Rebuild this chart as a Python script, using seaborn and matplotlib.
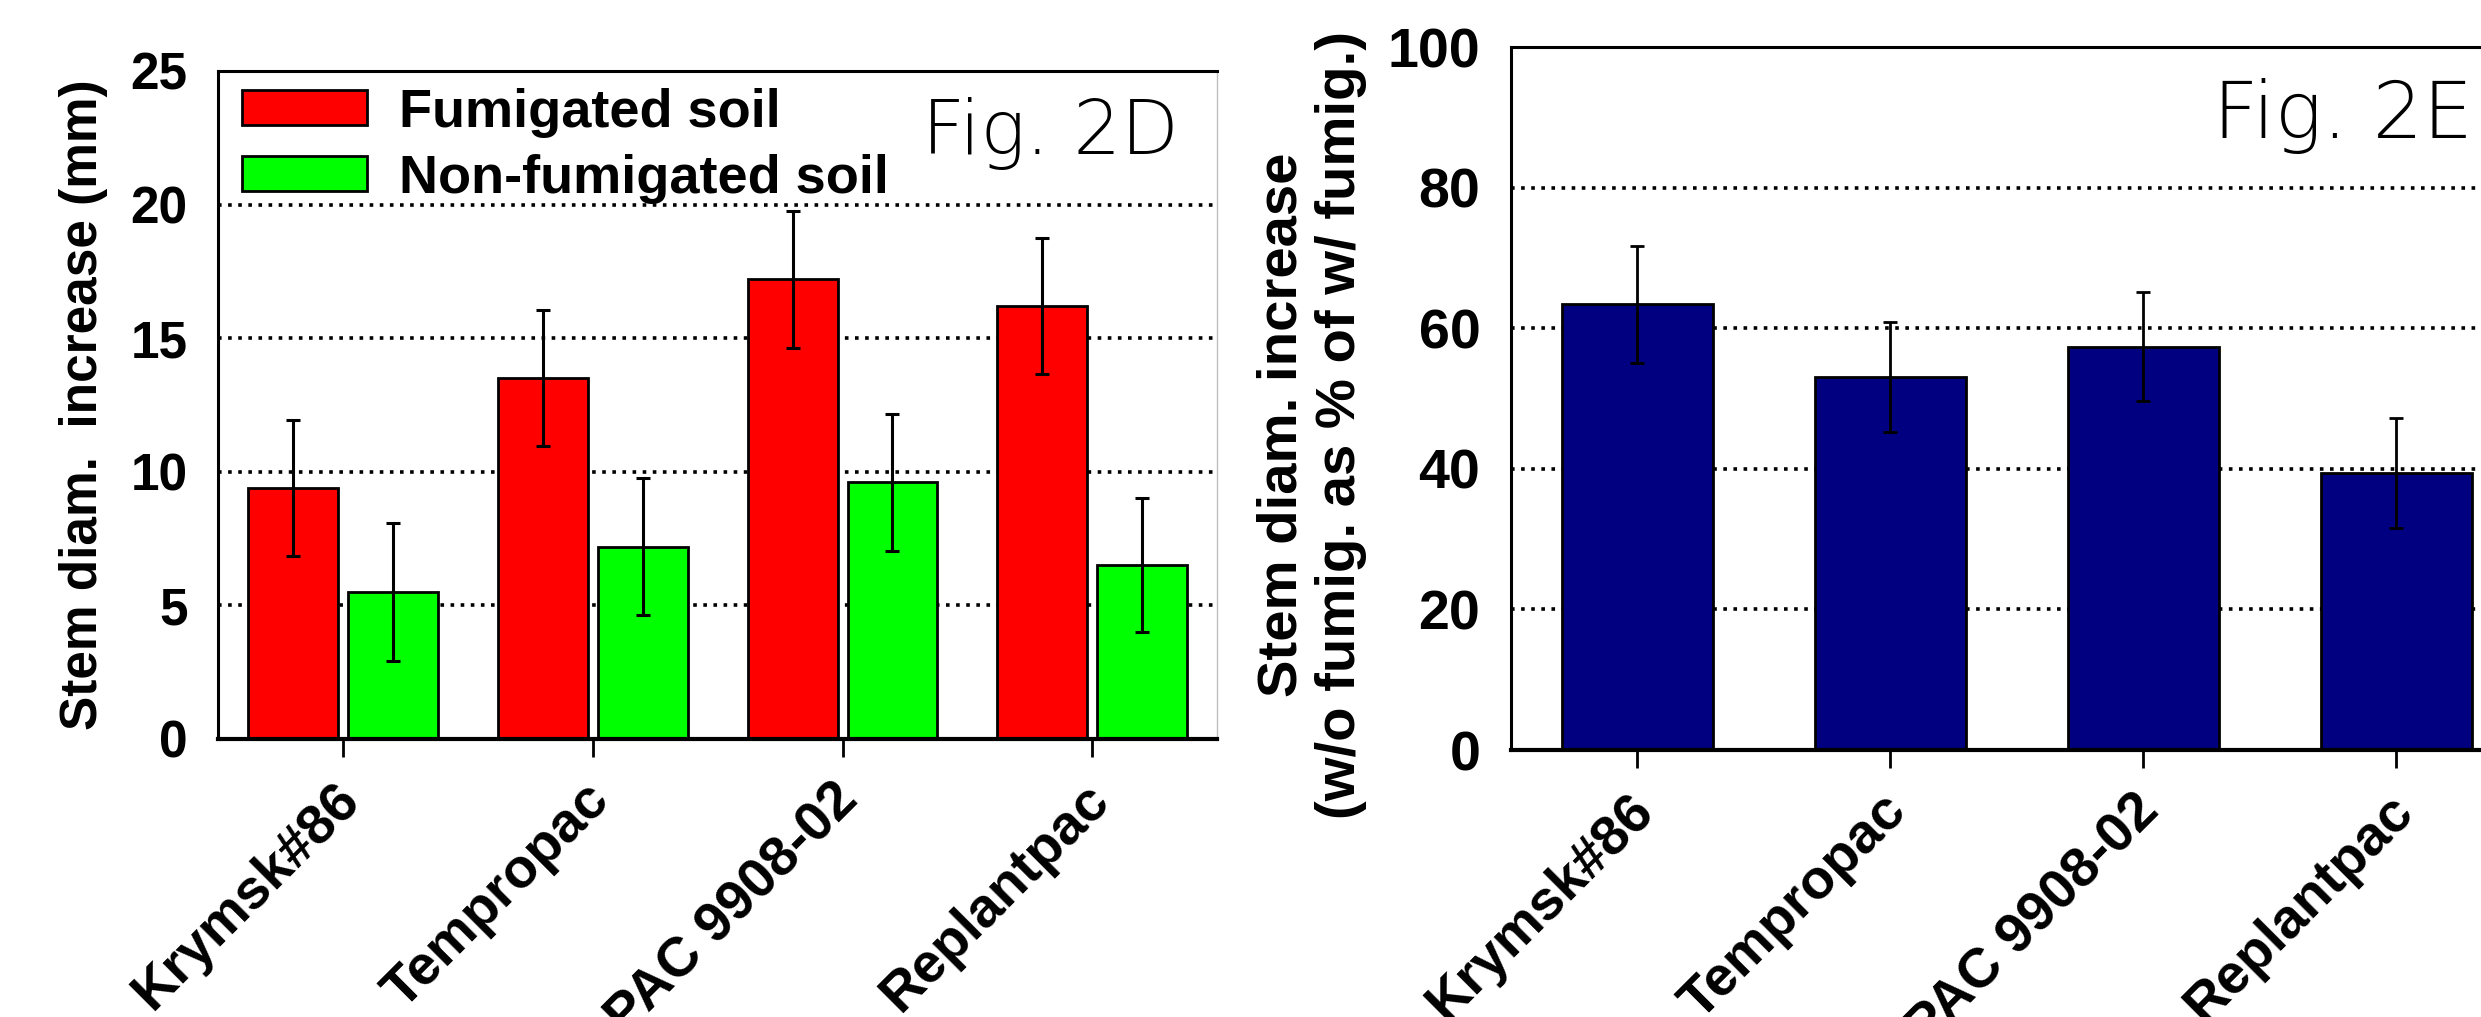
import matplotlib
matplotlib.use("Agg")
import matplotlib.pyplot as plt
import matplotlib.transforms as mtransforms
import seaborn as sns
import pandas as pd

# values
rootstocks = ["Krymsk#86", "Tempropac", "PAC 9908-02", "Replantpac"]
soils = ["Fumigated soil", "Non-fumigated soil"]
fumigated_mean = [9.4, 13.5, 17.2, 16.2]
fumigated_err = [2.55, 2.55, 2.55, 2.55]
nonfumigated_mean = [5.5, 7.2, 9.6, 6.5]
nonfumigated_err = [2.6, 2.55, 2.55, 2.5]
ratio_mean = [63.4, 53.1, 57.4, 39.4]
ratio_err = [8.3, 7.85, 7.8, 7.8]

soil_colors = ["#ff0000", "#00ff00"]
ratio_color = "#000080"

sns.set_style("ticks")
plt.rcParams['font.family'] = ['Liberation Sans', 'DejaVu Sans']
plt.rcParams['font.weight'] = 'bold'
plt.rcParams['axes.labelweight'] = 'bold'
for key in ('text.color', 'axes.labelcolor', 'xtick.color', 'ytick.color',
            'axes.edgecolor'):
    plt.rcParams[key] = 'black'

fig = plt.figure(figsize=(24.81, 10.17), dpi=100)
ax1 = fig.add_axes([0.0879, 0.2734, 0.4027, 0.6568])
ax2 = fig.add_axes([0.6090, 0.2625, 0.4079, 0.6912])

# --- Fig. 2D: stem diameter increase by soil treatment
df_soil = pd.DataFrame({
    'rootstock': rootstocks * 2,
    'soil': [soils[0]] * len(rootstocks) + [soils[1]] * len(rootstocks),
    'increase': fumigated_mean + nonfumigated_mean,
})
sns.barplot(data=df_soil, x='rootstock', y='increase', hue='soil',
            palette=soil_colors, saturation=1, errorbar=None, width=0.8,
            gap=0.1, edgecolor='black', linewidth=2, ax=ax1, zorder=2)

for cont, err in zip(ax1.containers, [fumigated_err, nonfumigated_err]):
    xs = [b.get_x() + b.get_width() / 2 for b in cont]
    ys = [b.get_height() for b in cont]
    ax1.errorbar(xs, ys, yerr=err, fmt='none', ecolor='black',
                 elinewidth=2.2, capsize=5, capthick=2.2, zorder=3)

sns.move_legend(ax1, "upper left", bbox_to_anchor=(0.024, 0.975),
                frameon=False, title=None, fontsize=39, borderpad=0,
                borderaxespad=0, handlelength=2.3, handleheight=0.62,
                handletextpad=0.6, labelspacing=0.3)
for t in ax1.get_legend().get_texts():
    t.set_color('black')

ax1.set_ylim(0, 25)
ax1.set_yticks(range(0, 26, 5))
ax1.set_ylabel("Stem diam.  increase (mm)", fontsize=37, labelpad=16)

# --- Fig. 2E: non-fumigated as % of fumigated
df_ratio = pd.DataFrame({'rootstock': rootstocks, 'ratio': ratio_mean})
sns.barplot(data=df_ratio, x='rootstock', y='ratio', color=ratio_color,
            saturation=1, errorbar=None, width=0.6, edgecolor='black',
            linewidth=2, ax=ax2, zorder=2)
cont = ax2.containers[0]
xs = [b.get_x() + b.get_width() / 2 for b in cont]
ax2.errorbar(xs, ratio_mean, yerr=ratio_err, fmt='none', ecolor='black',
             elinewidth=2, capsize=5, capthick=2, zorder=3)

ax2.set_ylim(0, 100)
ax2.set_yticks(range(0, 101, 20))
ax2.set_ylabel("Stem diam. increase\n(w/o fumig. as % of w/ fumig.)",
               fontsize=40.5, linespacing=1.15)
ax2.yaxis.set_label_coords(-0.1423, 0.462)

shift = mtransforms.ScaledTranslation(-10 / 100, 0, fig.dpi_scale_trans)
for ax, ysize in ((ax1, 37), (ax2, 40)):
    ax.set_xlabel('')
    ax.set_xlim(-0.5, 3.5)
    ax.yaxis.grid(True, linestyle=(0, (1, 1.8)), color='black', linewidth=2.6)
    ax.set_axisbelow(True)
    ax.tick_params(axis='y', length=0, pad=22, labelsize=ysize)
    ax.tick_params(axis='x', length=13, width=2, direction='out',
                   pad=12, labelsize=40, color='black')
    for lab in ax.get_xticklabels():
        lab.set_rotation(45)
        lab.set_ha('right')
        lab.set_rotation_mode('anchor')
        lab.set_transform(lab.get_transform() + shift)
    ax.spines['left'].set_linewidth(2.2)
    ax.spines['top'].set_linewidth(2.2)
    ax.spines['bottom'].set_linewidth(3)
    ax.spines['right'].set_linewidth(2.2)

ax1.spines['right'].set_linewidth(1)
ax1.spines['right'].set_color('#c0c0c0')

fig_font = ['DejaVu Sans']
fig.text(922 / 2481, 1 - 154 / 1017, "Fig. 2D", fontsize=54,
         family=fig_font, fontweight=200, va='baseline', ha='left')
fig.text(2213 / 2481, 1 - 138 / 1017, "Fig. 2E", fontsize=57,
         family=fig_font, fontweight=200, va='baseline', ha='left')

fig.savefig("out.png", dpi=100)
